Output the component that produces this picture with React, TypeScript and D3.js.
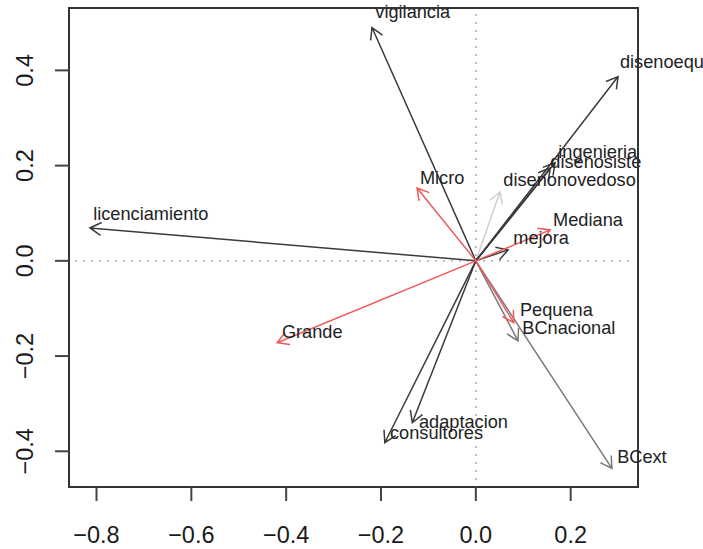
import React from 'react'
import * as d3 from 'd3'

// variables of the biplot (arrow tips, in plot units)
const names = [
  'vigilancia', 'disenoequipo', 'ingenieria', 'disenosiste', 'disenonovedoso',
  'Micro', 'Mediana', 'mejora', 'licenciamiento', 'Grande',
  'Pequena', 'BCnacional', 'BCext', 'adaptacion', 'consultores',
]
const tipX = [-0.219, 0.3, 0.167, 0.157, 0.051, -0.124, 0.157, 0.068, -0.814, -0.419, 0.08, 0.089, 0.287, -0.134, -0.192]
const tipY = [0.49, 0.387, 0.206, 0.195, 0.145, 0.153, 0.065, 0.023, 0.069, -0.172, -0.13, -0.168, -0.436, -0.34, -0.382]
// label anchor (left edge, vertical middle), plot units
const labX = [-0.212, 0.304, 0.174, 0.157, 0.058, -0.118, 0.163, 0.079, -0.807, -0.409, 0.093, 0.098, 0.298, -0.12, -0.181]
const labY = [0.523, 0.418, 0.229, 0.208, 0.17, 0.174, 0.086, 0.048, 0.099, -0.149, -0.103, -0.141, -0.412, -0.338, -0.361]
const kind = ['dark', 'dark', 'dark', 'dark', 'light', 'red', 'red', 'dark', 'dark', 'red', 'red', 'gray', 'gray', 'dark', 'dark']

const xTicks = [-0.8, -0.6, -0.4, -0.2, 0.0, 0.2]
const yTicks = [-0.4, -0.2, 0.0, 0.2, 0.4]

const colors: Record<string, string> = {
  dark: '#3a3a3a',
  gray: '#7a7a7a',
  light: '#cfcfcf',
  red: '#f05a5a',
}

const fmt = (v: number) => d3.format('.1f')(v).replace('-', '\u2212')

export default function App() {
  const W = 703
  const H = 549
  const x = d3.scaleLinear().domain([-0.858, 0.342]).range([69, 638])
  const y = d3.scaleLinear().domain([-0.475, 0.531]).range([487, 8])
  const [x0, x1] = x.range()
  const [y0, y1] = y.range()

  const headLen = 13
  const arrows = names.map((n, i) => {
    const sx = x(0), sy = y(0)
    const ex = x(tipX[i]), ey = y(tipY[i])
    const a = Math.atan2(ey - sy, ex - sx)
    const h1 = [ex - headLen * Math.cos(a - Math.PI / 6), ey - headLen * Math.sin(a - Math.PI / 6)]
    const h2 = [ex - headLen * Math.cos(a + Math.PI / 6), ey - headLen * Math.sin(a + Math.PI / 6)]
    const d = `M${sx},${sy}L${ex},${ey}M${h1[0]},${h1[1]}L${ex},${ey}L${h2[0]},${h2[1]}`
    return { n, d, c: colors[kind[i]], k: kind[i] }
  })

  // draw order: light first, then grays, then dark, red on top
  const order = ['light', 'gray', 'dark', 'red']
  const sorted = [...arrows].sort((a, b) => order.indexOf(a.k) - order.indexOf(b.k))

  return (
    <svg
      width={W}
      height={H}
      style={{ position: 'absolute', left: 0, top: 0, background: '#fff' }}
      fontFamily="'Liberation Sans', Arial, sans-serif"
    >
      {/* reference lines */}
      <line x1={x(0)} x2={x(0)} y1={y1 + 6} y2={y0 - 6} stroke="#9a9a9a" strokeWidth={1.3} strokeDasharray="2,6" />
      <line x1={x0 + 6} x2={x1 - 4} y1={y(0)} y2={y(0)} stroke="#9a9a9a" strokeWidth={1.3} strokeDasharray="2,6" />

      {sorted.map((a) => (
        <path key={a.n} d={a.d} fill="none" stroke={a.c} strokeWidth={1.5} />
      ))}

      {names.map((n, i) => (
        <text key={n} x={x(labX[i])} y={y(labY[i])} dy="0.35em" fontSize={18.2} fill="#222">
          {n}
        </text>
      ))}

      {/* box */}
      <rect x={x0} y={y1} width={x1 - x0} height={y0 - y1} fill="none" stroke="#333" strokeWidth={2} />

      {/* x axis */}
      {xTicks.map((t) => (
        <g key={'x' + t}>
          <line x1={x(t)} x2={x(t)} y1={y0} y2={y0 + 14} stroke="#444" strokeWidth={2} />
          <text x={x(t)} y={543} textAnchor="middle" fontSize={23.5} fill="#1a1a1a">
            {fmt(t)}
          </text>
        </g>
      ))}

      {/* y axis */}
      {yTicks.map((t) => (
        <g key={'y' + t}>
          <line x1={x0} x2={x0 - 14} y1={y(t)} y2={y(t)} stroke="#444" strokeWidth={2} />
          <text
            transform={`translate(33,${y(t)}) rotate(-90)`}
            textAnchor="middle"
            fontSize={23.5}
            fill="#1a1a1a"
          >
            {fmt(t)}
          </text>
        </g>
      ))}
    </svg>
  )
}
